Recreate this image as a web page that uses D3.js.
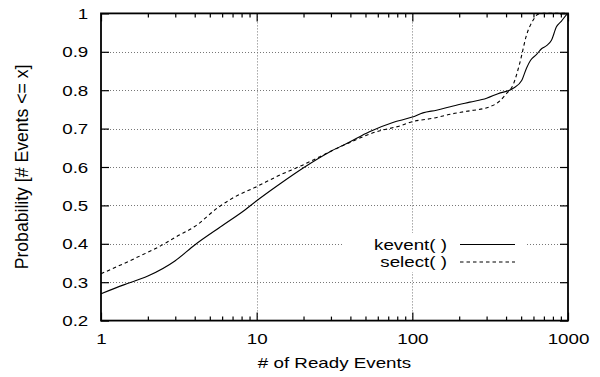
<!DOCTYPE html>
<html>
<head>
<meta charset="utf-8">
<script src="https://cdn.jsdelivr.net/npm/d3@7"></script>
<style>
  html, body { margin: 0; padding: 0; background: #fff; }
  svg text { font-family: "Liberation Sans", Arial, Helvetica, sans-serif; fill: #000; }
</style>
</head>
<body>
<svg id="chart" width="600" height="377"></svg>
<script>
// ---- data ----
const keventX = [1, 1.4, 2, 3, 4, 6, 8.4, 10, 14, 20, 30, 39, 53, 75, 100, 117, 143, 183, 234, 300, 355, 445, 504, 542, 575, 628, 676, 728, 783, 843, 908, 980, 1000];
const keventY = [0.27, 0.293, 0.316, 0.356, 0.397, 0.447, 0.488, 0.512, 0.555, 0.598, 0.641, 0.664, 0.692, 0.716, 0.730, 0.741, 0.748, 0.759, 0.769, 0.779, 0.791, 0.805, 0.825, 0.858, 0.878, 0.893, 0.908, 0.916, 0.930, 0.965, 0.980, 0.997, 1.0];
const selectX = [1, 1.65, 2.58, 3.0, 4.0, 5.67, 6.74, 10, 14.1, 20, 25.5, 38.7, 59, 83, 100, 136, 183, 223, 315, 365, 400, 445, 491, 542, 598, 643, 700, 1000];
const selectY = [0.322, 0.362, 0.401, 0.417, 0.445, 0.495, 0.515, 0.549, 0.579, 0.606, 0.627, 0.662, 0.692, 0.707, 0.718, 0.727, 0.739, 0.745, 0.757, 0.772, 0.790, 0.815, 0.872, 0.944, 0.983, 0.998, 1.0, 1.0];
const xMajorTicks = [1, 10, 100, 1000];
const xTickLabels = ["1", "10", "100", "1000"];
const yTicks = [0.2, 0.3, 0.4, 0.5, 0.6, 0.7, 0.8, 0.9, 1.0];
const yTickLabels = ["0.2", "0.3", "0.4", "0.5", "0.6", "0.7", "0.8", "0.9", "1"];
const seriesNames = ["kevent( )", "select( )"];
const xTitle = "# of Ready Events";
const yTitle = "Probability [# Events <= x]";

// ---- layout ----
const L = 101, R = 568, T = 13.4, B = 320.6;
const SX = 1.34; // horizontal glyph stretch seen in reference
const svg = d3.select("#chart");
const x = d3.scaleLog().domain([1, 1000]).range([L, R]);
const y = d3.scaleLinear().domain([0.2, 1]).range([B, T]);

const xMinor = [];
for (let d = 1; d < 1000; d *= 10) for (let k = 2; k <= 9; k++) xMinor.push(d * k);

// grid (dotted)
const grid = svg.append("g").attr("stroke", "#777").attr("stroke-width", 1).attr("stroke-dasharray", "1,2");
grid.selectAll("line.h").data(yTicks.filter(v => v > 0.2 && v < 1)).join("line")
  .attr("x1", L).attr("x2", R).attr("y1", d => Math.round(y(d)) + 0.5).attr("y2", d => Math.round(y(d)) + 0.5);
grid.selectAll("line.v").data(xMajorTicks.filter(v => v > 1 && v < 1000)).join("line")
  .attr("y1", T).attr("y2", B).attr("x1", d => Math.round(x(d)) + 0.5).attr("x2", d => Math.round(x(d)) + 0.5);

// legend background box (opaque)
svg.append("rect").attr("x", 343).attr("y", 233).attr("width", 184).attr("height", 39).attr("fill", "#fff");

// axes
function styleAxis(g) {
  g.select(".domain").remove();
  g.selectAll(".tick line").attr("stroke", "#000").attr("stroke-width", 1.2);
}
const fmtX = d => xTickLabels[xMajorTicks.indexOf(d)];
const fmtY = d => yTickLabels[yTicks.findIndex(v => Math.abs(v - d) < 1e-9)];

const gxb = svg.append("g").attr("transform", `translate(0,${B})`)
  .call(d3.axisBottom(x).tickValues(xMajorTicks).tickSize(-8).tickPadding(13.4).tickFormat(fmtX));
styleAxis(gxb);
gxb.selectAll("text").attr("font-size", 14).attr("font-family", null).attr("transform", `scale(${SX},1)`);
svg.append("g").attr("transform", `translate(0,${B})`)
  .call(d3.axisBottom(x).tickValues(xMinor).tickSize(-4).tickFormat("")).call(styleAxis);
svg.append("g").attr("transform", `translate(0,${T})`)
  .call(d3.axisTop(x).tickValues(xMajorTicks).tickSize(-8).tickFormat("")).call(styleAxis);
svg.append("g").attr("transform", `translate(0,${T})`)
  .call(d3.axisTop(x).tickValues(xMinor).tickSize(-4).tickFormat("")).call(styleAxis);

const gyl = svg.append("g").attr("transform", `translate(${L},0)`)
  .call(d3.axisLeft(y).tickValues(yTicks).tickSize(-8).tickPadding(9.5).tickFormat(fmtY));
styleAxis(gyl);
gyl.selectAll("text").attr("font-size", 14).attr("font-family", null).attr("dy", "0.36em").attr("transform", `scale(${SX},1)`);
svg.append("g").attr("transform", `translate(${R},0)`)
  .call(d3.axisRight(y).tickValues(yTicks).tickSize(-8).tickFormat("")).call(styleAxis);

// border
svg.append("rect").attr("x", L).attr("y", T).attr("width", R - L).attr("height", B - T)
  .attr("fill", "none").attr("stroke", "#000").attr("stroke-width", 1.8);

// curves
const line = d3.line().x(d => x(d[0])).y(d => y(d[1])).curve(d3.curveMonotoneX);
const kData = keventX.map((v, i) => [v, keventY[i]]);
const sData = selectX.map((v, i) => [v, selectY[i]]);
svg.append("path").datum(kData).attr("d", line).attr("fill", "none").attr("stroke", "#000").attr("stroke-width", 1.1);
svg.append("path").datum(sData).attr("d", line).attr("fill", "none").attr("stroke", "#000").attr("stroke-width", 1.1).attr("stroke-dasharray", "3.5,3");

// legend
const legRows = [244.5, 262];
seriesNames.forEach((name, i) => {
  svg.append("text").attr("text-anchor", "end").attr("font-size", 14)
    .attr("transform", `translate(447,${legRows[i] + 5}) scale(${SX},1)`).text(name);
  const ln = svg.append("line").attr("x1", 460).attr("x2", 515).attr("y1", legRows[i]).attr("y2", legRows[i])
    .attr("stroke", "#000").attr("stroke-width", 1.1);
  if (i === 1) ln.attr("stroke-dasharray", "3.5,3");
});

// axis titles
svg.append("text").attr("text-anchor", "middle").attr("font-size", 14)
  .attr("transform", `translate(${(L + R) / 2},368) scale(${SX},1)`).text(xTitle);
svg.append("text").attr("text-anchor", "middle").attr("font-size", 14)
  .attr("transform", `translate(27.5,${(T + B) / 2}) rotate(-90) scale(1.26,${SX})`).text(yTitle);
</script>
</body>
</html>
